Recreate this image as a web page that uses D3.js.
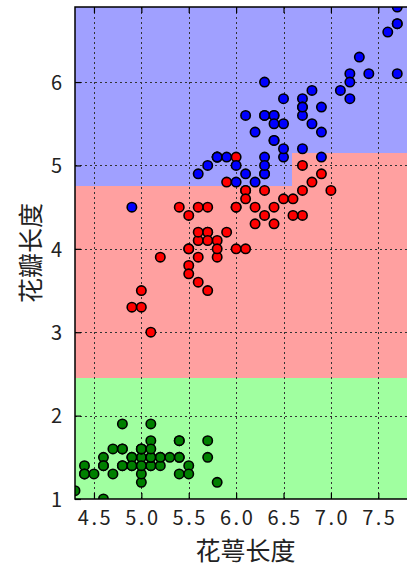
<!DOCTYPE html>
<html>
<head>
<meta charset="utf-8">
<script src="https://cdn.jsdelivr.net/npm/d3@7"></script>
<style>
  html, body { margin: 0; padding: 0; background: #fff; }
  svg { display: block; }
</style>
</head>
<body>
<svg id="chart" width="407" height="568"></svg>
<script>
// Iris: sepal length (x) vs petal length (y), per species
const setosaSepal = [5.1,4.9,4.7,4.6,5.0,5.4,4.6,5.0,4.4,4.9,5.4,4.8,4.8,4.3,5.8,5.7,5.4,5.1,5.7,5.1,5.4,5.1,4.6,5.1,4.8,5.0,5.0,5.2,5.2,4.7,4.8,5.4,5.2,5.5,4.9,5.0,5.5,4.9,4.4,5.1,5.0,4.5,4.4,5.0,5.1,4.8,5.1,4.6,5.3,5.0];
const setosaPetal = [1.4,1.4,1.3,1.5,1.4,1.7,1.4,1.5,1.4,1.5,1.5,1.6,1.4,1.1,1.2,1.5,1.3,1.4,1.7,1.5,1.7,1.5,1.0,1.7,1.9,1.6,1.6,1.5,1.4,1.6,1.6,1.5,1.5,1.4,1.5,1.2,1.3,1.4,1.3,1.5,1.3,1.3,1.3,1.6,1.9,1.4,1.6,1.4,1.5,1.4];
const versicolorSepal = [7.0,6.4,6.9,5.5,6.5,5.7,6.3,4.9,6.6,5.2,5.0,5.9,6.0,6.1,5.6,6.7,5.6,5.8,6.2,5.6,5.9,6.1,6.3,6.1,6.4,6.6,6.8,6.7,6.0,5.7,5.5,5.5,5.8,6.0,5.4,6.0,6.7,6.3,5.6,5.5,5.5,6.1,5.8,5.0,5.6,5.7,5.7,6.2,5.1,5.7];
const versicolorPetal = [4.7,4.5,4.9,4.0,4.6,4.5,4.7,3.3,4.6,3.9,3.5,4.2,4.0,4.7,3.6,4.4,4.5,4.1,4.5,3.9,4.8,4.0,4.9,4.7,4.3,4.4,4.8,5.0,4.5,3.5,3.8,3.7,3.9,5.1,4.5,4.5,4.7,4.4,4.1,4.0,4.4,4.6,4.0,3.3,4.2,4.2,4.2,4.3,3.0,4.1];
const virginicaSepal = [6.3,5.8,7.1,6.3,6.5,7.6,4.9,7.3,6.7,7.2,6.5,6.4,6.8,5.7,5.8,6.4,6.5,7.7,7.7,6.0,6.9,5.6,7.7,6.3,6.7,7.2,6.2,6.1,6.4,7.2,7.4,7.9,6.4,6.3,6.1,7.7,6.3,6.4,6.0,6.9,6.7,6.9,5.8,6.8,6.7,6.7,6.3,6.5,6.2,5.9];
const virginicaPetal = [6.0,5.1,5.9,5.6,5.8,6.6,4.5,6.3,5.8,6.1,5.1,5.3,5.5,5.0,5.1,5.3,5.5,6.7,6.9,5.0,5.7,4.9,6.7,4.9,5.7,6.0,4.8,4.9,5.6,5.8,6.1,6.4,5.6,5.1,5.6,6.1,5.6,5.5,4.8,5.4,5.6,5.1,5.1,5.9,5.7,5.2,5.0,5.2,5.4,5.1];

// Split values of the fitted tree that bound the decision regions
const regionSepalSplit = 6.59;
const regionPetalSplits = [2.45, 4.75, 5.15];
const xTicks = [4.5, 5.0, 5.5, 6.0, 6.5, 7.0, 7.5];
const yTicks = [1, 2, 3, 4, 5, 6];
const xLabel = "花萼长度";
const yLabel = "花瓣长度";

const regionColors = ["#a0ffa0", "#ffa0a0", "#a0a0ff"];
const pointColors = ["#008000", "#ff0000", "#0000ff"];

const xDomain = [4.3, 7.9];
const yDomain = [1.0, 6.9];

const svg = d3.select("#chart");
const plotLeft = 75, plotTop = 7, plotBottom = 499;
const x = d3.scaleLinear().domain(xDomain).range([plotLeft, plotLeft + 3.6 * 94.78]);
const y = d3.scaleLinear().domain(yDomain).range([plotBottom, plotTop]);

const plotW = x(xDomain[1]) - x(xDomain[0]);
const plotH = y(yDomain[0]) - y(yDomain[1]);

svg.append("defs").append("clipPath").attr("id", "plotclip")
  .append("rect").attr("x", plotLeft).attr("y", plotTop).attr("width", plotW).attr("height", plotH);

const plot = svg.append("g").attr("clip-path", "url(#plotclip)");

// Region rectangles [x0, x1, y0, y1, class] built from the split values
const regions = [
  [xDomain[0], xDomain[1], yDomain[0], yDomain[1], 2],
  [xDomain[0], xDomain[1], yDomain[0], regionPetalSplits[0], 0],
  [xDomain[0], regionSepalSplit, regionPetalSplits[0], regionPetalSplits[1], 1],
  [regionSepalSplit, xDomain[1], regionPetalSplits[0], regionPetalSplits[2], 1]
];
plot.selectAll("rect.region").data(regions).join("rect")
  .attr("class", "region")
  .attr("x", d => x(d[0]))
  .attr("y", d => y(d[3]))
  .attr("width", d => x(d[1]) - x(d[0]))
  .attr("height", d => y(d[2]) - y(d[3]))
  .attr("fill", d => regionColors[d[4]])
  .attr("shape-rendering", "crispEdges");

// Dotted grid
const gridStyle = g => g.attr("stroke", "#333").attr("stroke-width", 1)
  .attr("stroke-dasharray", "1.5,3.5").attr("shape-rendering", "crispEdges");
plot.append("g").call(gridStyle).selectAll("line").data(xTicks).join("line")
  .attr("x1", d => Math.round(x(d)) + 0.5).attr("x2", d => Math.round(x(d)) + 0.5)
  .attr("y1", plotTop).attr("y2", plotBottom);
plot.append("g").call(gridStyle).selectAll("line").data(yTicks).join("line")
  .attr("y1", d => Math.round(y(d)) + 0.5).attr("y2", d => Math.round(y(d)) + 0.5)
  .attr("x1", plotLeft).attr("x2", plotLeft + plotW);

// Scatter points
const species = [
  [setosaSepal, setosaPetal, 0],
  [versicolorSepal, versicolorPetal, 1],
  [virginicaSepal, virginicaPetal, 2]
];
const points = species.flatMap(([sx, sy, c]) => sx.map((v, i) => ({ sx: v, py: sy[i], c })));
plot.selectAll("circle").data(points).join("circle")
  .attr("cx", d => x(d.sx))
  .attr("cy", d => y(d.py))
  .attr("r", 4.7)
  .attr("fill", d => pointColors[d.c])
  .attr("stroke", "#000")
  .attr("stroke-width", 1.6);

// Axes with inward ticks
const tickLen = 6;
const xAxisB = d3.axisBottom(x).tickValues(xTicks).tickSize(-tickLen).tickPadding(tickLen + 6)
  .tickFormat(d3.format(".1f"));
const xAxisT = d3.axisTop(x).tickValues(xTicks).tickSize(-tickLen).tickFormat("");
const yAxisL = d3.axisLeft(y).tickValues(yTicks).tickSize(-tickLen).tickPadding(tickLen + 7)
  .tickFormat(d3.format("d"));

function styleAxis(g) {
  g.select(".domain").remove();
  g.selectAll(".tick line").attr("stroke", "#000").attr("stroke-width", 1.2);
  g.selectAll("text").attr("fill", "#222")
    .style("font-family", "'Noto Sans CJK SC', 'Noto Sans', sans-serif")
    .style("font-size", "20px");
}

svg.append("g").attr("transform", `translate(0,${plotBottom})`).call(xAxisB).call(styleAxis)
  .selectAll("text").style("letter-spacing", "2.5px").attr("dx", "1px");
svg.append("g").attr("transform", `translate(0,${plotTop})`).call(xAxisT).call(styleAxis);
svg.append("g").attr("transform", `translate(${plotLeft},0)`).call(yAxisL).call(styleAxis)
  .selectAll("text").attr("dy", "0.36em");

// Frame
svg.append("rect").attr("x", plotLeft).attr("y", plotTop).attr("width", plotW).attr("height", plotH)
  .attr("fill", "none").attr("stroke", "#000").attr("stroke-width", 1.5);

// Axis titles
svg.append("text").attr("x", x((xDomain[0] + xDomain[1]) / 2)).attr("y", 560)
  .attr("text-anchor", "middle").attr("fill", "#222")
  .style("font-family", "'Noto Sans CJK SC', sans-serif").style("font-size", "25px")
  .text(xLabel);
svg.append("text")
  .attr("transform", `translate(40,${(plotTop + plotBottom) / 2}) rotate(-90)`)
  .attr("text-anchor", "middle").attr("fill", "#222")
  .style("font-family", "'Noto Sans CJK SC', sans-serif").style("font-size", "25px")
  .text(yLabel);
</script>
</body>
</html>
